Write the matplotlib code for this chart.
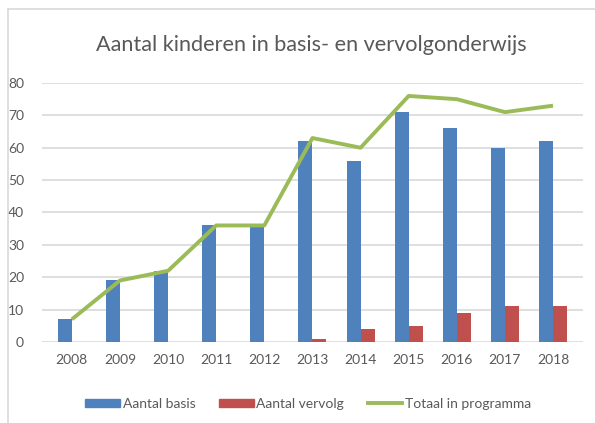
import matplotlib.pyplot as plt
from matplotlib.lines import Line2D
from matplotlib.patches import Patch
import numpy as np

years = ['2008', '2009', '2010', '2011', '2012', '2013', '2014', '2015', '2016', '2017', '2018']
basis = [7, 19, 22, 36, 36, 62, 56, 71, 66, 60, 62]
vervolg = [0, 0, 0, 0, 0, 1, 4, 5, 9, 11, 11]
totaal = [7, 19, 22, 36, 36, 63, 60, 76, 75, 71, 73]

blue = '#4F81BD'
red = '#C0504D'
green = '#9BBB59'
grey = '#595959'

plt.rcParams['font.family'] = ['Lato', 'DejaVu Sans']

fig = plt.figure(figsize=(5.95, 4.23), dpi=100)
ax = fig.add_axes([0.0706, 0.1915, 0.909, 0.6123])

x = np.arange(len(years))
w = 0.29
ax.bar(x - w / 2, basis, width=w, color=blue, zorder=2)
ax.bar(x + w / 2, vervolg, width=w, color=red, zorder=2)
ax.plot(x, totaal, color=green, linewidth=2.8, zorder=3, solid_capstyle='butt')

ax.set_xlim(-0.62, len(years) - 1 + 0.62)
ax.set_ylim(0, 80)
ax.set_yticks(range(0, 81, 10))
ax.set_xticks(x)
ax.set_xticklabels(years)
ax.tick_params(axis='both', length=0, labelsize=10, labelcolor=grey)
ax.tick_params(axis='y', pad=13)
ax.tick_params(axis='x', pad=9)
ax.grid(axis='y', color='#D9D9D9', linewidth=1.2, zorder=0)
for s in ax.spines.values():
    s.set_visible(False)

fig.text(0.524, 0.893, 'Aantal kinderen in basis- en vervolgonderwijs',
         ha='center', va='center', fontsize=15.6, color=grey)

handles = [Patch(color=blue), Patch(color=red), Line2D([], [], color=green, linewidth=2.8)]
labels = ['Aantal basis', 'Aantal vervolg', 'Totaal in programma']
fig.legend(handles, labels, loc='center', bbox_to_anchor=(0.518, 0.045), ncol=3,
           frameon=False, fontsize=10, labelcolor=grey, handlelength=2.5,
           handleheight=0.55, handletextpad=0.2, columnspacing=1.7)

# frame lines (top and left) like the cropped chart border
fig.add_artist(Line2D([0.013, 1.0], [0.978, 0.978], color='#D9D9D9', linewidth=1.2))
fig.add_artist(Line2D([0.013, 0.013], [0.0, 0.978], color='#D9D9D9', linewidth=1.2))

fig.savefig('out.png', dpi=100)
